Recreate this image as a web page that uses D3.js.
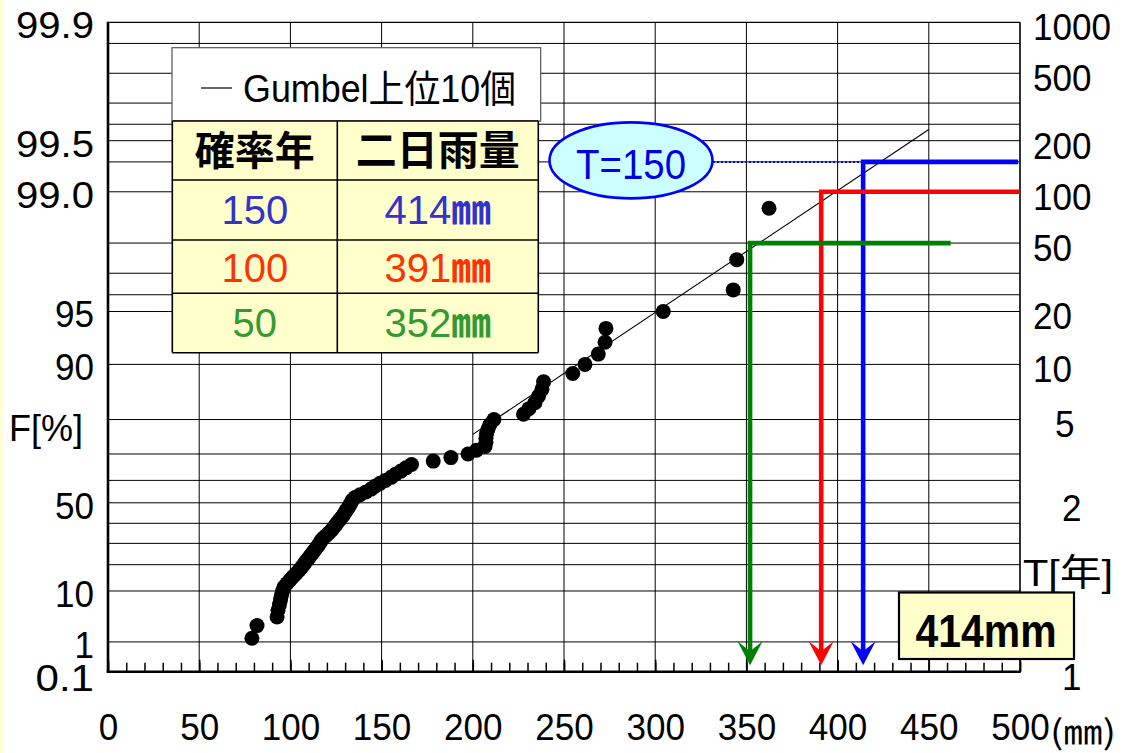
<!DOCTYPE html>
<html><head><meta charset="utf-8">
<script src="https://cdn.jsdelivr.net/npm/d3@7"></script>
<style>html,body{margin:0;padding:0;background:#fff;} svg{display:block;}</style>
</head><body>
<svg id="chart" width="1125" height="753"></svg>
<script>
// ---- data -------------------------------------------------------------
// Annual maximum 2-day rainfall (mm), sorted ascending
const rainfall = [78.9, 81.7, 92.7, 93.2, 94.0, 94.6, 95.1, 95.7, 96.5, 98.1,
  99.8, 101.4, 103.1, 104.7, 106.1, 107.2, 108.3, 109.6, 110.7, 111.8,
  112.9, 114.0, 115.1, 116.0, 116.8, 117.9, 119.5, 120.9, 122.3, 123.4,
  124.5, 125.5, 126.6, 127.7, 128.8, 129.7, 130.5, 131.6, 132.4, 133.2,
  134.0, 135.4, 138.2, 141.4, 144.2, 146.4, 149.1, 152.1, 155.2, 157.6,
  160.6, 163.4, 166.4, 178.3, 188.0, 197.4, 202.0, 206.7, 207.2, 207.2,
  207.5, 208.3, 209.4, 211.6, 227.8, 230.8, 234.1, 236.0, 237.9, 238.8,
  254.8, 261.5, 268.8, 272.5, 273.0, 304.4, 342.8, 344.7, 362.4];

// Gumbel fit line (upper 10 values), end points as [mm, F%]
const fitLine = [[200, 76.1], [450, 99.57]];

// Design return periods and their rainfall
const designT = [150, 100, 50];
const designMM = [414, 391, 352];
const guideReachMM = [499, 500, 462];

// Axis ticks / labels
const xTicks = [0, 50, 100, 150, 200, 250, 300, 350, 400, 450, 500];
const fLabels = ["0.1", "1", "10", "50", "90", "95", "99.0", "99.5", "99.9"];
const tTicks = [1, 2, 5, 10, 20, 50, 100, 200, 500, 1000];
const fGrid = [1, 10, 20, 30, 40, 50, 60, 70, 80, 90, 95, 96, 97, 98, 99,
  99.3333, 99.5, 99.6, 99.7, 99.8, 99.8667];

// Table contents
const tableHead = ["確率年", "二日雨量"];
const tableT = ["150", "100", "50"];
const tableMM = ["414", "391", "352"];

// ---- scales -----------------------------------------------------------
const L = 108, R = 1020, TOP = 22.3, B = 671.7;
const gum = p => -Math.log(-Math.log(p));
const x = d3.scaleLinear().domain([0, 500]).range([L, R]);
const y = d3.scaleLinear().domain([gum(0.001), gum(0.999)]).range([B, TOP]);
const yF = f => y(gum(f / 100));
const redT = t => t === 1 ? gum(0.001) : gum(1 - 1 / t);
const yT = t => y(redT(t));

const LATIN = "'Liberation Sans', Arial, 'Noto Sans CJK JP', sans-serif";
const CJK = "'Noto Sans CJK JP', 'Liberation Sans', sans-serif";
const FS = 37;      // axis label size
const CELL = 39;    // full-width advance of the fixed-pitch look
// half-width / full-width advance, as on a gothic fixed-pitch face
const monoW = s => { let w = 0; for (const ch of s) w += /[\u2010-\u2015\u3000-\u9fff\uff00-\uffef\u3380-\u33ff]/.test(ch) ? CELL : CELL / 2; return w; };

const svg = d3.select("#chart");
svg.append("rect").attr("width", 1125).attr("height", 753).attr("fill", "#fff");
svg.append("rect").attr("width", 3).attr("height", 753).attr("fill", "#ffffd6");

// ---- grid -------------------------------------------------------------
const grid = svg.append("g").attr("stroke", "#000").attr("stroke-width", 1);
grid.selectAll("line.h").data(fGrid).join("line").attr("class", "h")
  .attr("x1", L).attr("x2", R).attr("y1", d => yF(d)).attr("y2", d => yF(d));
grid.selectAll("line.v").data(xTicks.slice(1, -1)).join("line").attr("class", "v")
  .attr("x1", d => x(d)).attr("x2", d => x(d)).attr("y1", TOP).attr("y2", B);

// bottom axis: minor ticks every 10 mm, pointing up
svg.append("g").attr("transform", `translate(0,${B})`)
  .call(d3.axisBottom(x).tickValues(d3.range(0, 501, 10)).tickSize(-9).tickFormat(""))
  .call(g => g.select(".domain").remove())
  .call(g => g.selectAll("line").attr("stroke", "#000").attr("stroke-width", 1.5));
svg.append("g").attr("transform", `translate(0,${B})`)
  .call(d3.axisBottom(x).tickValues(xTicks).tickSize(-12).tickFormat(""))
  .call(g => g.select(".domain").remove())
  .call(g => g.selectAll("line").attr("stroke", "#000").attr("stroke-width", 1.5));

// frame
svg.append("line").attr("x1", L).attr("x2", R).attr("y1", TOP).attr("y2", TOP).attr("stroke", "#000").attr("stroke-width", 1.2);
svg.append("line").attr("x1", R).attr("x2", R).attr("y1", TOP).attr("y2", B).attr("stroke", "#000").attr("stroke-width", 1.6);
svg.append("line").attr("x1", L).attr("x2", L).attr("y1", TOP - 0.6).attr("y2", B + 1.2).attr("stroke", "#000").attr("stroke-width", 2.6);
svg.append("line").attr("x1", L - 1.2).attr("x2", R + 0.8).attr("y1", B).attr("y2", B).attr("stroke", "#000").attr("stroke-width", 2.6);

// ---- axis labels ------------------------------------------------------
function styleLabels(g, anchor) {
  g.select(".domain").remove();
  g.selectAll(".tick line").remove();
  g.selectAll("text")
    .attr("font-family", LATIN).attr("font-size", FS).attr("fill", "#000")
    .attr("text-anchor", anchor)
    .attr("dy", "0.36em")
    .attr("lengthAdjust", "spacingAndGlyphs")
    .attr("textLength", function () { return monoW(this.textContent); });
}
svg.append("g").attr("transform", `translate(0,${B})`)
  .call(d3.axisBottom(x).tickValues(xTicks).tickSize(0).tickFormat(d => String(d)))
  .call(g => styleLabels(g, "middle"))
  .call(g => g.selectAll("text").attr("y", 55));
svg.append("g").attr("transform", `translate(${L},0)`)
  .call(d3.axisLeft(y).tickValues(fLabels.map(s => gum(+s / 100))).tickSize(0).tickPadding(14)
    .tickFormat((d, i) => fLabels[i]))
  .call(g => styleLabels(g, "end"))
  .call(g => g.selectAll("text").attr("y", function () { return this.textContent === "0.1" ? 5 : 2; }));
svg.append("g").attr("transform", `translate(${R},0)`)
  .call(d3.axisRight(y).tickValues(tTicks.map(redT)).tickSize(0).tickPadding(13)
    .tickFormat((d, i) => String(tTicks[i])))
  .call(g => styleLabels(g, "start"))
  .call(g => g.selectAll("text").attr("y", 4)
    .attr("dx", function () { return this.textContent.length === 1 ? (this.textContent === "5" ? 22 : 29) : 0; }));

svg.append("text").attr("x", 1050).attr("y", 730).attr("dominant-baseline", "central")
  .attr("font-family", CJK).attr("font-size", 33).attr("textLength", 66)
  .attr("lengthAdjust", "spacingAndGlyphs").text("(㎜)");
svg.append("text").attr("x", 9).attr("y", 428).attr("dy", "0.36em")
  .attr("font-family", LATIN).attr("font-size", FS).attr("textLength", 74)
  .attr("lengthAdjust", "spacingAndGlyphs").text("F[%]");
svg.append("text").attr("x", 1023).attr("y", 573).attr("dy", "0.36em")
  .attr("font-family", LATIN).attr("font-size", FS).attr("textLength", 90)
  .attr("lengthAdjust", "spacingAndGlyphs").text("T[年]");

// ---- fit line and observations ----------------------------------------
svg.append("line")
  .attr("x1", x(fitLine[0][0])).attr("y1", yF(fitLine[0][1]))
  .attr("x2", x(fitLine[1][0])).attr("y2", yF(fitLine[1][1]))
  .attr("stroke", "#000").attr("stroke-width", 1.1);

const n = rainfall.length;
svg.append("g").selectAll("circle").data(rainfall).join("circle")
  .attr("cx", d => x(d))
  .attr("cy", (d, i) => y(gum((i + 1) / (n + 1))))   // Weibull plotting position
  .attr("r", 7.5).attr("fill", "#000");

// ---- design-rainfall guides -------------------------------------------
const guideColors = ["#0000ff", "#ff0000", "#008000"];
const tipY = B - 6.5;
designT.forEach((t, i) => {
  const xv = x(designMM[i]), yl = yT(t), xe = x(guideReachMM[i]);
  svg.append("path")
    .attr("d", `M${xe},${yl} L${xv},${yl} L${xv},${tipY - 13}`)
    .attr("fill", "none").attr("stroke", guideColors[i]).attr("stroke-width", 4.6)
    .attr("stroke-linejoin", "miter");
  svg.append("path")
    .attr("d", `M${xv},${tipY} L${xv - 12.5},${tipY - 24} L${xv},${tipY - 14} L${xv + 12.5},${tipY - 24} Z`)
    .attr("fill", guideColors[i]);
});

// T=150 callout
const yc = yT(150);
svg.append("line").attr("x1", 713).attr("x2", x(designMM[0])).attr("y1", yc).attr("y2", yc)
  .attr("stroke", "#0000ff").attr("stroke-width", 2).attr("stroke-dasharray", "2 2");
svg.append("ellipse").attr("cx", 631).attr("cy", yc - 1.5).attr("rx", 81.5).attr("ry", 38)
  .attr("fill", "#ccffff").attr("stroke", "#0000ff").attr("stroke-width", 2.6);
svg.append("text").attr("x", 631).attr("y", yc + 2).attr("text-anchor", "middle").attr("dy", "0.36em")
  .attr("font-family", LATIN).attr("font-size", 43).attr("fill", "#0000e8")
  .attr("textLength", 110).attr("lengthAdjust", "spacingAndGlyphs").text(`T=${designT[0]}`);

// result box
svg.append("rect").attr("x", 899).attr("y", 592.5).attr("width", 175).attr("height", 66.5)
  .attr("fill", "#ffffcc").attr("stroke", "#000").attr("stroke-width", 2.2);
svg.append("text").attr("x", 986).attr("y", 630).attr("text-anchor", "middle").attr("dy", "0.36em")
  .attr("font-family", LATIN).attr("font-size", 47).attr("font-weight", "bold").attr("fill", "#000")
  .attr("textLength", 141).attr("lengthAdjust", "spacingAndGlyphs").text(`${designMM[0]}mm`);

// ---- legend and table -------------------------------------------------
svg.append("rect").attr("x", 172).attr("y", 47.7).attr("width", 368.7).attr("height", 73.3)
  .attr("fill", "#fff").attr("stroke", "#555").attr("stroke-width", 1.2);
svg.append("line").attr("x1", 201).attr("x2", 232).attr("y1", 88).attr("y2", 88)
  .attr("stroke", "#000").attr("stroke-width", 1.2);
const legendText = "Gumbel上位10個";
svg.append("text").attr("x", 243).attr("y", 88).attr("dy", "0.36em")
  .attr("font-family", LATIN).attr("font-size", 38).attr("fill", "#000")
  .attr("textLength", monoW(legendText)).attr("lengthAdjust", "spacingAndGlyphs")
  .text(legendText);

const colX = [172.3, 337.3, 538.3];
const rowY = [121, 180, 240, 293.3, 352.7];
const tbl = svg.append("g");
tbl.append("rect").attr("x", colX[0]).attr("y", rowY[0])
  .attr("width", colX[2] - colX[0]).attr("height", rowY[4] - rowY[0]).attr("fill", "#ffffcc");
tbl.selectAll("line.r").data(rowY).join("line").attr("class", "r")
  .attr("x1", colX[0]).attr("x2", colX[2]).attr("y1", d => d).attr("y2", d => d)
  .attr("stroke", "#000").attr("stroke-width", 1.6);
tbl.selectAll("line.c").data(colX).join("line").attr("class", "c")
  .attr("x1", d => d).attr("x2", d => d).attr("y1", rowY[0]).attr("y2", rowY[4])
  .attr("stroke", "#000").attr("stroke-width", 1.6);

const colMid = [(colX[0] + colX[1]) / 2, (colX[1] + colX[2]) / 2];
const rowMid = [150.5, 210, 268, 323];
tableHead.forEach((h, j) => {
  tbl.append("text").attr("x", colMid[j]).attr("y", rowMid[0]).attr("text-anchor", "middle")
    .attr("dy", "0.36em").attr("font-family", CJK).attr("font-weight", "bold")
    .attr("font-size", j === 0 ? 40 : 41).attr("fill", "#000").text(h);
});
const rowColors = ["#3333cc", "#ff3300", "#339933"];
tableT.forEach((t, i) => {
  tbl.append("text").attr("x", colMid[0]).attr("y", rowMid[i + 1]).attr("text-anchor", "middle")
    .attr("dy", "0.36em").attr("font-family", LATIN).attr("font-size", 40)
    .attr("fill", rowColors[i]).text(t);
  const tx = tbl.append("text").attr("x", colMid[1]).attr("y", rowMid[i + 1]).attr("text-anchor", "middle")
    .attr("dy", "0.36em").attr("font-family", LATIN).attr("font-size", 40).attr("fill", rowColors[i]);
  tx.append("tspan").text(tableMM[i]);
  tx.append("tspan").attr("font-family", CJK).attr("font-weight", "bold").text("㎜");
});
</script>
</body></html>
